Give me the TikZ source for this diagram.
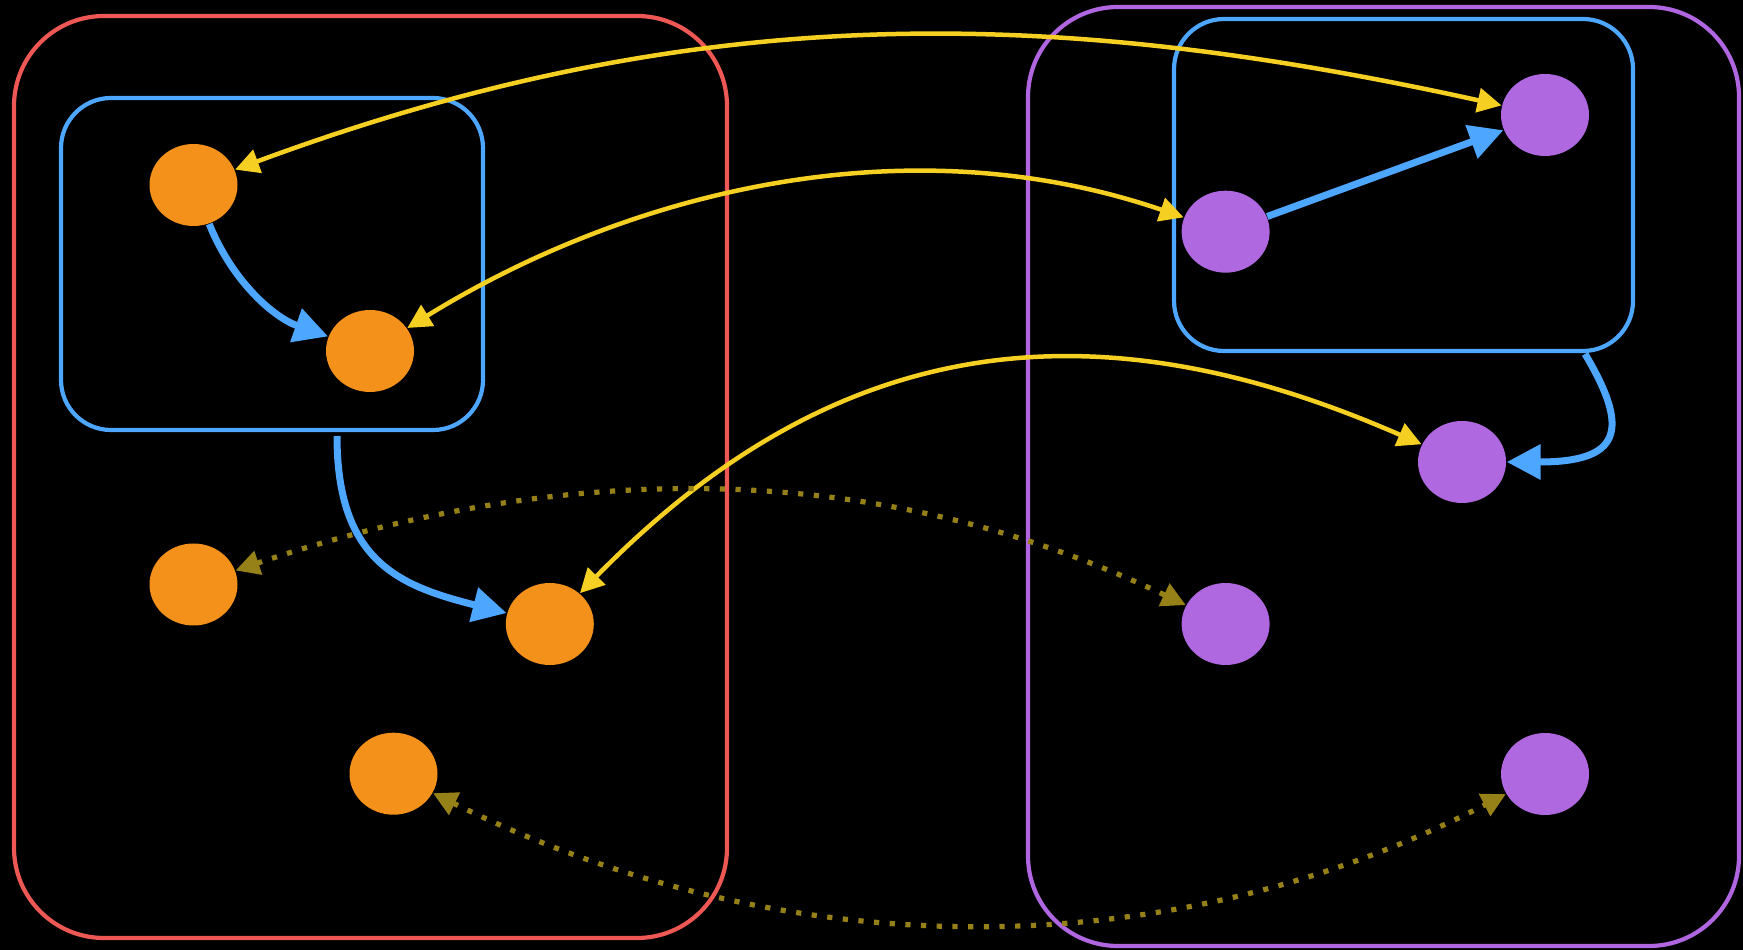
\documentclass[tikz,border=0pt]{standalone}
\usepackage{tikz}
\usetikzlibrary{arrows.meta,shapes.geometric}

\definecolor{orangenode}{RGB}{243,145,26}
\definecolor{purplenode}{RGB}{176,104,224}
\definecolor{redframe}{RGB}{238,88,84}
\definecolor{purpleframe}{RGB}{176,102,224}
\definecolor{bluelink}{RGB}{77,166,255}
\definecolor{yellowlink}{RGB}{245,208,35}
\definecolor{olivelink}{RGB}{150,128,24}

\tikzset{
  frame/.style={draw, line width=0.42mm, rectangle, inner sep=0pt, fill=none},
  redframebox/.style={frame, draw=redframe, rounded corners=9mm},
  purpleframebox/.style={frame, draw=purpleframe, rounded corners=9mm},
  blueframebox/.style={frame, draw=bluelink, rounded corners=5mm},
  dotnode/.style={ellipse, minimum width=8.8mm, minimum height=8.2mm, inner sep=0pt, draw=none},
  onode/.style={dotnode, fill=orangenode},
  pnode/.style={dotnode, fill=purplenode},
  bluearrow/.style={draw=bluelink, line width=0.7mm,
    -{Triangle[length=3.4mm,width=3.4mm]}},
  yellowarrow/.style={draw=yellowlink, line width=0.45mm,
    {Triangle[length=2.4mm,width=2.4mm]}-{Triangle[length=2.4mm,width=2.4mm]}},
  dottedarrow/.style={draw=olivelink, line width=0.52mm,
    dash pattern=on 0.52mm off 1.05mm,
    {Triangle[length=2.4mm,width=2.4mm]}-{Triangle[length=2.4mm,width=2.4mm]}}
}

\begin{document}
\begin{tikzpicture}[x=0.1mm, y=-0.1mm]
  % canvas
  \fill[black] (0,0) rectangle (1743,950);
  \useasboundingbox (0,0) rectangle (1743,950);

  % group frames
  \node[redframebox, minimum width=71.3mm, minimum height=92.2mm] (leftgroup) at (370.5,477) {};
  \node[blueframebox, minimum width=42.2mm, minimum height=33.2mm] (leftcluster) at (272,264) {};
  \node[purpleframebox, minimum width=71.1mm, minimum height=93.9mm] (rightgroup) at (1383.5,476.5) {};
  \node[blueframebox, minimum width=45.9mm, minimum height=33.2mm] (rightcluster) at (1403.5,185) {};

  % orange nodes
  \node[onode] (oA) at (193.5,185) {};
  \node[onode] (oB) at (370,351) {};
  \node[onode] (oC) at (193.5,584.5) {};
  \node[onode] (oD) at (549.8,624) {};
  \node[onode] (oE) at (393.5,773.7) {};

  % purple nodes
  \node[pnode] (pA) at (1545,115) {};
  \node[pnode] (pB) at (1225.6,231.7) {};
  \node[pnode] (pC) at (1462,462) {};
  \node[pnode] (pD) at (1225.6,624) {};
  \node[pnode] (pE) at (1545,774) {};

  % cluster exit points
  \coordinate (outL) at (337,436);
  \coordinate (outR) at (1585,354);

  % solid blue links
  \draw[bluearrow] (oA) .. controls (233,283) and (275,318) .. (oB);
  \draw[bluearrow] (outL) .. controls (337,562) and (400,586) .. (oD);
  \draw[bluearrow] (pB) -- (pA);
  \draw[bluearrow] (outR) .. controls (1631,431) and (1620,462) .. (pC);

  % yellow two-way links
  \draw[yellowarrow] (oA) .. controls (704,-4) and (1061,8.5) .. (pA);
  \draw[yellowarrow] (oB) .. controls (620,196.75) and (898.5,119.9) .. (pB);
  \draw[yellowarrow] (oD) .. controls (846.7,320.3) and (1109.6,307.7) .. (pC);

  % dotted two-way links
  \draw[dottedarrow] (oC) .. controls (521,475) and (842,441.6) .. (pD);
  \draw[dottedarrow] (oE) .. controls (780.5,964.4) and (1161.4,971.1) .. (pE);
\end{tikzpicture}
\end{document}
